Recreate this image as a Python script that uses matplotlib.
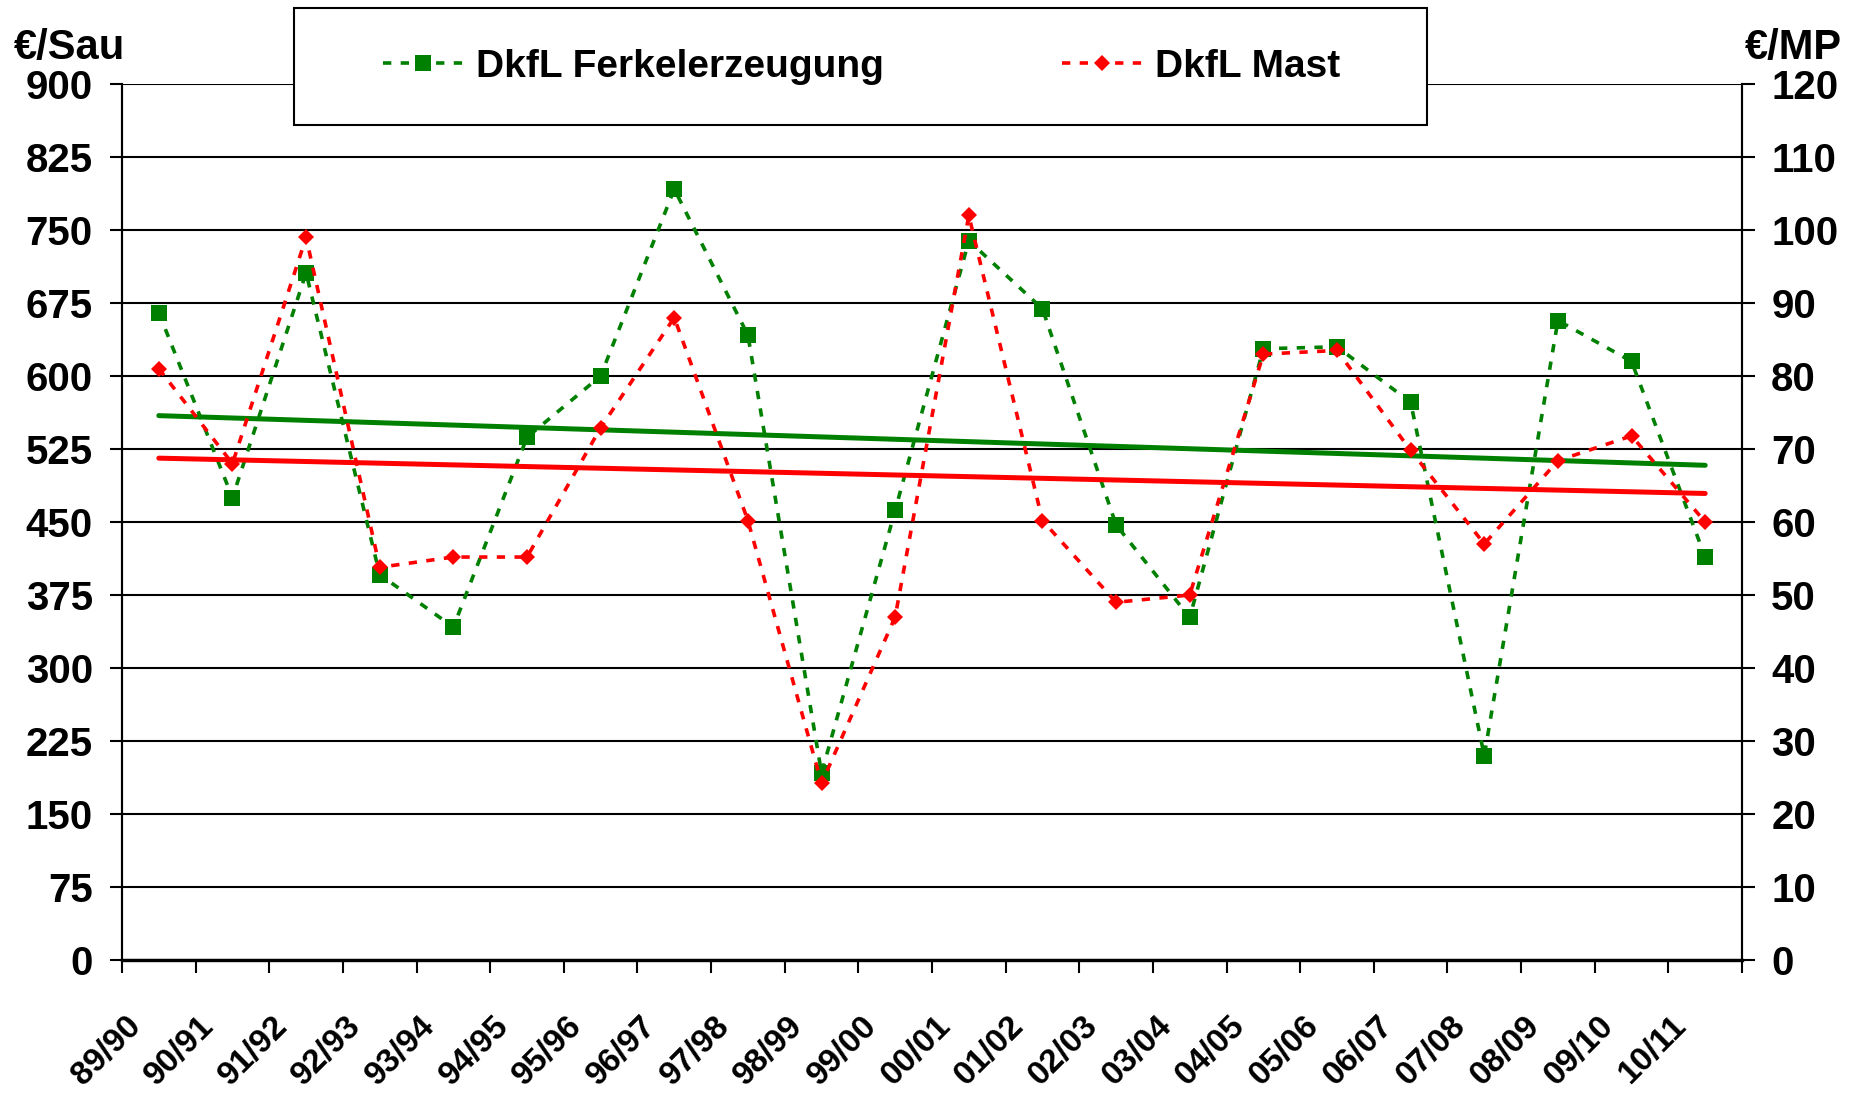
import numpy as np
import matplotlib
matplotlib.use("Agg")
import matplotlib.pyplot as plt
import matplotlib.transforms as mtransforms
from matplotlib.patches import Rectangle

plt.rcParams['font.family'] = ['Liberation Sans', 'DejaVu Sans']
plt.rcParams['font.weight'] = 'bold'

# Wirtschaftsjahre
jahre = ["89/90", "90/91", "91/92", "92/93", "93/94", "94/95", "95/96", "96/97",
         "97/98", "98/99", "99/00", "00/01", "01/02", "02/03", "03/04", "04/05",
         "05/06", "06/07", "07/08", "08/09", "09/10", "10/11"]

# DkfL Ferkelerzeugung, EUR je Sau (linke Achse)
ferkel = [665, 475, 706, 396, 342, 537, 600, 792, 642, 192, 462,
          739, 669, 447, 352, 628, 630, 573, 210, 657, 615, 414]

# DkfL Mast, EUR je Mastplatz (rechte Achse)
mast = [81.0, 68.0, 99.0, 53.8, 55.2, 55.2, 72.9, 88.0, 60.2, 24.2, 47.0,
        102.0, 60.2, 49.0, 50.0, 83.0, 83.5, 69.8, 57.0, 68.4, 71.8, 60.0]

links_ticks = [0, 75, 150, 225, 300, 375, 450, 525, 600, 675, 750, 825, 900]
rechts_ticks = [0, 10, 20, 30, 40, 50, 60, 70, 80, 90, 100, 110, 120]

gruen = '#008000'
rot = '#ff0000'

fig = plt.figure(figsize=(18.61, 10.95), dpi=100)
ax = fig.add_axes([122 / 1861, 1 - 960 / 1095, (1742 - 122) / 1861, (960 - 84) / 1095])
ax2 = ax.twinx()

x = np.arange(len(jahre))

# gridlines + axes
ax.set_ylim(0, 900)
ax.set_xlim(-0.5, len(jahre) - 0.5)
ax.set_yticks(links_ticks)
ax.yaxis.grid(True, color='black', linewidth=1.5)
ax.set_axisbelow(True)
ax2.set_ylim(0, 120)
ax2.set_yticks(rechts_ticks)

for a in (ax, ax2):
    a.spines['top'].set_visible(False)
    a.spines['left'].set_linewidth(1.5)
    a.spines['right'].set_linewidth(1.5)
    a.spines['bottom'].set_linewidth(2.3)
    a.patch.set_alpha(0)

ax.tick_params(axis='y', direction='out', length=9, width=1.5, pad=12, labelsize=29)
ax2.tick_params(axis='y', direction='out', length=9, width=1.5, pad=12, labelsize=29)

# category boundaries get tick marks, labels sit at category centres
ax.set_xticks(np.arange(-0.5, len(jahre)), minor=True)
ax.set_xticks(x)
ax.set_xticklabels(jahre, rotation=45, ha='right', va='top', rotation_mode='anchor', fontsize=24)
ax.tick_params(axis='x', which='major', length=0, pad=0)
ax.tick_params(axis='x', which='minor', direction='out', length=9, width=1.5)
offset = mtransforms.ScaledTranslation(-0.34, -0.50, fig.dpi_scale_trans)
for lab in ax.get_xticklabels():
    lab.set_transform(lab.get_transform() + offset)

# series
l1, = ax.plot(x, ferkel, color=gruen, linestyle=(0, (2.3, 2.6)), linewidth=2.6,
              marker='s', markersize=11.5, markeredgewidth=0, label='DkfL Ferkelerzeugung')
l2, = ax2.plot(x, mast, color=rot, linestyle=(0, (2.3, 2.6)), linewidth=2.6,
               marker='D', markersize=8, markeredgewidth=0, label='DkfL Mast')

# linear trend lines
p1 = np.polyfit(x, ferkel, 1)
p2 = np.polyfit(x, mast, 1)
ax.plot(x, np.polyval(p1, x), color=gruen, linewidth=3.6, solid_capstyle='round')
ax2.plot(x, np.polyval(p2, x), color=rot, linewidth=3.6, solid_capstyle='round')

# axis units
fig.text(14 / 1861, 1 - 48 / 1095, '€/Sau', fontsize=30, fontweight='bold', ha='left', va='center')
fig.text(1842 / 1861, 1 - 48 / 1095, '€/MP', fontsize=30, fontweight='bold', ha='right', va='center')

# legend box over the plot
fig.patches.append(Rectangle((294 / 1861, 1 - 125 / 1095), (1427 - 294) / 1861, 117 / 1095,
                             transform=fig.transFigure, facecolor='white', edgecolor='black',
                             linewidth=1.5, zorder=3))
leg = fig.legend(handles=[l1, l2], loc='center left', bbox_to_anchor=(383 / 1861, 1 - 67 / 1095),
                 ncol=2, frameon=False, fontsize=28, handlelength=2.05, handletextpad=0.33,
                 columnspacing=4.6, borderpad=0, borderaxespad=0)
leg.set_zorder(4)
for t in leg.get_texts():
    t.set_fontweight('bold')

fig.savefig('out.png', dpi=100)
